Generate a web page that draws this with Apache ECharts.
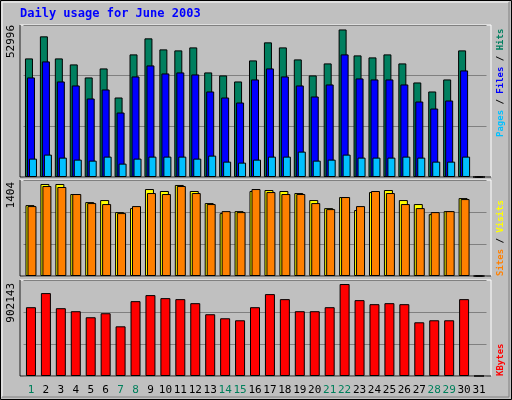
<!DOCTYPE html><html><head><meta charset="utf-8"><script src="https://cdn.jsdelivr.net/npm/echarts@6/dist/echarts.min.js"></script>
<style>html,body{margin:0;padding:0;background:#c0c0c0}#c{width:512px;height:400px}</style></head><body><div id="c"></div><script>
const days=[];for(let i=1;i<=31;i++)days.push(String(i));
const weekend=[1,7,8,14,15,21,22,28,29];
const hits=[42600,50520,42600,40440,35760,39000,28560,44040,49800,45840,45480,46560,37560,36480,34320,41880,48360,46560,42240,36480,40800,52996,43680,42960,44040,40800,33960,30720,35040,45480,0];
const files=[35760,41520,34320,32880,28200,31440,23160,36120,40080,37200,37560,36840,30720,28560,26760,35040,39000,36120,32880,28920,33240,44040,35400,35040,35040,33240,27120,24600,27480,38280,0];
const pages=[6600,8040,6960,6240,5880,7320,4800,6600,7320,7320,7320,6600,7680,5520,5160,6240,7320,7320,9120,5880,6240,8040,6960,6960,6960,7320,6960,5520,5520,7320,0];
const visits=[1082,1404,1404,1251,1128,1159,975,1036,1327,1297,1389,1297,1113,960,990,1297,1312,1297,1266,1159,1036,1205,1006,1281,1312,1159,1098,944,990,1189,0];
const sites=[1067,1373,1358,1251,1113,1098,960,1067,1266,1251,1373,1266,1098,990,975,1327,1281,1251,1251,1113,1021,1205,1067,1297,1266,1098,1036,975,990,1174,0];
const kbytes=[674963,813248,665085,635453,576188,615698,487290,734228,793493,763860,753983,714473,605820,566310,546555,674963,803370,753983,635453,635453,674963,902143,744105,704595,714473,704595,526800,546555,546555,753983,0];
const title='Daily usage for June 2003';
const maxLabels=['52996','1404','902143'];
const axMax=[54600,1465,941655];
const font='"DejaVu Sans Mono", monospace';
const panels=[[25,177],[180,276],[280,376]];
const grids=panels.map(p=>({left:23.5,right:25.5,top:p[0],height:p[1]-p[0],containLabel:false}));
const xAxes=panels.map((p,i)=>({type:'category',gridIndex:i,data:days,axisLine:{show:false},axisTick:{show:false},
 axisLabel:i===2?{show:true,interval:0,margin:9,fontFamily:font,fontSize:11,color:(v)=>weekend.includes(+v)?'#00805c':'#000'}:{show:false}}));
const yAxes=panels.map((p,i)=>({type:'value',gridIndex:i,min:0,max:axMax[i],interval:axMax[i]/3,axisLabel:{show:false},axisLine:{show:false},axisTick:{show:false},splitLine:{show:true,lineStyle:{color:'#808080',width:1}}}));
const bs=(name,data,color,g,w,gap)=>({name,type:'bar',data,xAxisIndex:g,yAxisIndex:g,barWidth:w,barGap:gap,itemStyle:{color,borderColor:'#000',borderWidth:1},animation:false});
const series=[bs('Hits',hits,'#007f5f',0,8,'-75%'),bs('Files',files,'#0000ff',0,8,'-75%'),bs('Pages',pages,'#00c0ff',0,8,'-75%'),
 bs('Visits',visits,'#ffff00',1,9,'-78%'),bs('Sites',sites,'#ff8000',1,9,'-78%'),bs('KBytes',kbytes,'#ff0000',2,10,'0%')];
const g=[];
g.push({type:'rect',shape:{x:0.5,y:0.5,width:511,height:399},style:{fill:'#c0c0c0',stroke:'#000',lineWidth:1},z:-10});
g.push({type:'polyline',shape:{points:[[2,397],[2,2],[509,2]]},style:{stroke:'#fff',fill:null,lineWidth:1},z:-9});
g.push({type:'polyline',shape:{points:[[2,397],[509,397],[509,2]]},style:{stroke:'#808080',fill:null,lineWidth:1},z:-9});
panels.forEach(p=>{
 g.push({type:'rect',shape:{x:20,y:p[0],width:471,height:p[1]-p[0]},style:{fill:'#c0c0c0',stroke:'#fff',lineWidth:1},z:-5});
 g.push({type:'polyline',shape:{points:[[20,p[0]],[20,p[1]],[491,p[1]]]},style:{stroke:'#000',fill:null,lineWidth:1},z:-4});
});
g.push({type:'text',left:20,top:8,style:{text:title,fill:'#0000ff',font:'bold 12px '+font},z:5});
const lblY=[25,182,283];
maxLabels.forEach((t,i)=>g.push({type:'text',x:6,y:lblY[i],rotation:Math.PI/2,originX:0,originY:0,style:{text:t,fill:'#000',font:'11px '+font,align:'right',verticalAlign:'top'},z:5}));
const f9='bold 9px '+font;
function rlab(y,parts){g.push({type:'text',x:496,y:y,rotation:Math.PI/2,style:{text:parts.map(p=>'{'+p[1]+'|'+p[0]+'}').join(''),align:'left',verticalAlign:'top',font:f9,
 rich:{a:{fill:'#00c0ff',font:f9},b:{fill:'#0000ff',font:f9},c:{fill:'#007f5f',font:f9},d:{fill:'#ff8000',font:f9},e:{fill:'#ffff00',font:f9},f:{fill:'#ff0000',font:f9},k:{fill:'#000',font:f9}}},z:5});}
rlab(137,[['Pages','a'],[' / ','k'],['Files','b'],[' / ','k'],['Hits','c']]);
rlab(276,[['Sites','d'],[' / ','k'],['Visits','e']]);
rlab(376,[['KBytes','f']]);
const ch=echarts.init(document.getElementById('c'));
ch.setOption({animation:false,backgroundColor:'#c0c0c0',grid:grids,xAxis:xAxes,yAxis:yAxes,series,graphic:g});
</script></body></html>
